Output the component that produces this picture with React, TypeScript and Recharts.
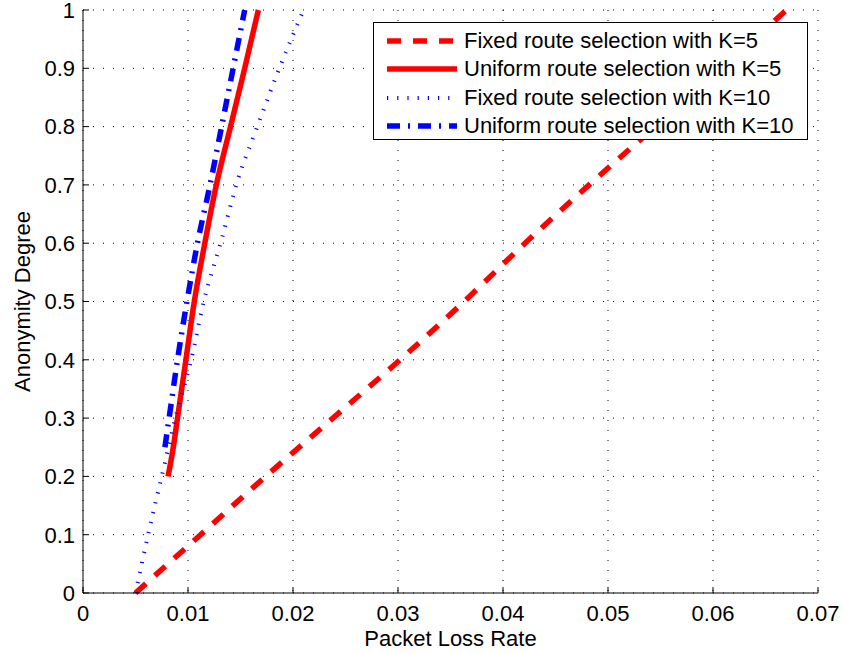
import { LineChart, Line, XAxis, YAxis, CartesianGrid } from "recharts";

const FONT = '"Liberation Sans", Arial, Helvetica, sans-serif';

const xTicks = [0, 0.01, 0.02, 0.03, 0.04, 0.05, 0.06, 0.07];
const yTicks = [0, 0.1, 0.2, 0.3, 0.4, 0.5, 0.6, 0.7, 0.8, 0.9, 1];

// anonymity degree levels at which the curves were read
const fixedLevels = [0, 0.1, 0.2, 0.3, 0.4, 0.5, 0.6, 0.7, 0.8, 0.9, 1];
const uniformK5Levels = [0.2, 0.25, 0.3, 0.4, 0.5, 0.6, 0.7, 0.8, 0.9, 1];
const uniformK10Levels = [0.25, 0.3, 0.4, 0.5, 0.6, 0.7, 0.8, 0.9, 1];

// packet loss rate for each level
const fixedK5Loss = [0.005, 0.0112, 0.0174, 0.0238, 0.0302, 0.0363, 0.0421, 0.0482, 0.0545, 0.0608, 0.067];
const uniformK5Loss = [0.0081, 0.0086, 0.009, 0.0098, 0.0106, 0.0116, 0.0127, 0.01405, 0.0154, 0.0167];
const fixedK10Loss = [0.005, 0.0062, 0.0075, 0.0088, 0.0103, 0.0115, 0.0131, 0.0146, 0.0166, 0.0187, 0.021];
const uniformK10Loss = [0.0078, 0.0082, 0.009, 0.0099, 0.0109, 0.0121, 0.0132, 0.0143, 0.0154];

const toPoints = (xs: number[], ys: number[]) => xs.map((x, i) => ({ x, y: ys[i] }));

const series = [
  { name: "Fixed route selection with K=5", data: toPoints(fixedK5Loss, fixedLevels), color: "#ff0000", width: 5.5, dash: "14 12" },
  { name: "Uniform route selection with K=5", data: toPoints(uniformK5Loss, uniformK5Levels), color: "#ff0000", width: 5.5, dash: undefined },
  { name: "Fixed route selection with K=10", data: toPoints(fixedK10Loss, fixedLevels), color: "#0000ff", width: 4, dash: "1.2 9" },
  { name: "Uniform route selection with K=10", data: toPoints(uniformK10Loss, uniformK10Levels), color: "#0000ff", width: 5.5, dash: "13 8 2 8" },
];

function LegendBox() {
  return (
    <div
      style={{
        position: "absolute",
        left: 373,
        top: 22,
        width: 435,
        height: 118,
        border: "1.5px solid #000",
        background: "#fff",
        paddingTop: 4,
        boxSizing: "border-box",
        fontFamily: FONT,
        fontSize: 22,
        lineHeight: 1,
        color: "#000",
      }}
    >
      {series.map((s) => (
        <div key={s.name} style={{ display: "flex", alignItems: "center", height: 28.3 }}>
          <svg width={90} height={12} style={{ flex: "none" }}>
            <line x1={13} x2={83} y1={6} y2={6} stroke={s.color} strokeWidth={s.width} strokeDasharray={s.dash} />
          </svg>
          <span style={{ whiteSpace: "nowrap" }}>{s.name}</span>
        </div>
      ))}
    </div>
  );
}

export default function App() {
  return (
    <div style={{ position: "absolute", left: 0, top: 0, width: 843, height: 653, background: "#fff", fontFamily: FONT }}>
      <LineChart width={843} height={653} margin={{ top: 10, right: 25, bottom: 0, left: 0 }}>
        <CartesianGrid stroke="#000" strokeDasharray="1 9" />
        <XAxis
          type="number"
          dataKey="x"
          domain={[0, 0.07]}
          ticks={xTicks}
          interval={0}
          height={60}
          stroke="#000"
          tickSize={-6}
          tickMargin={18}
          tick={{ fill: "#000", fontSize: 22 }}
          label={{ value: "Packet Loss Rate", position: "insideBottom", offset: 7, fill: "#000", fontSize: 22 }}
        />
        <XAxis xAxisId="top" orientation="top" type="number" dataKey="x" domain={[0, 0.07]} ticks={xTicks} interval={0} height={0} stroke="#000" tickSize={-6} tick={false} />
        <YAxis
          type="number"
          domain={[0, 1]}
          ticks={yTicks}
          interval={0}
          width={83}
          stroke="#000"
          tickSize={-6}
          tickMargin={14}
          tick={{ fill: "#000", fontSize: 22 }}
          label={{ value: "Anonymity Degree", angle: -90, position: "insideLeft", offset: 22, fill: "#000", fontSize: 22, style: { textAnchor: "middle" } }}
        />
        <YAxis yAxisId="right" orientation="right" type="number" domain={[0, 1]} ticks={yTicks} interval={0} width={0} stroke="#000" tickSize={-6} tick={false} />
        {series.map((s) => (
          <Line
            key={s.name}
            data={s.data}
            dataKey="y"
            type="monotone"
            stroke={s.color}
            strokeWidth={s.width}
            strokeDasharray={s.dash}
            dot={false}
            activeDot={false}
            isAnimationActive={false}
          />
        ))}
      </LineChart>
      <LegendBox />
    </div>
  );
}
